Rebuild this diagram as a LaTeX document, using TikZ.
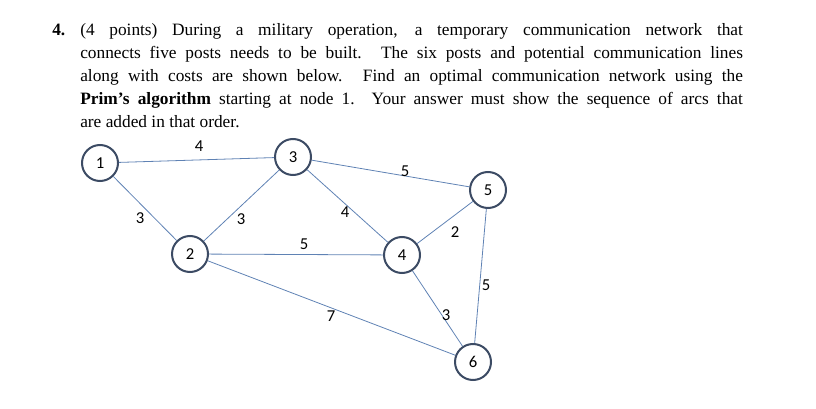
\documentclass[tikz,border=0pt]{standalone}
\usepackage{fontspec}
\setmainfont{Liberation Serif}
\newfontfamily\lblfont{Carlito}
\definecolor{edgec}{RGB}{95,130,180}
\definecolor{circc}{RGB}{60,75,100}
\begin{document}
\begin{tikzpicture}[x=0.75pt,y=-0.75pt,
  vert/.style={circle,draw=circc,line width=1.5pt,fill=white,minimum size=27pt,inner sep=0pt,font=\lblfont\fontsize{12.5}{14}\selectfont},
  edge/.style={draw=edgec,line width=0.6pt},
  lbl/.style={font=\lblfont\fontsize{12.5}{14}\selectfont,inner sep=0pt}]
\useasboundingbox (0,0) rectangle (816,409);
\node[anchor=north west,inner sep=0pt,font=\fontsize{13}{17.2}\selectfont] (num) at (52,19) {\strut\textbf{4.}};
\node[anchor=north west,inner sep=0pt,text width=497pt,align=justify,font=\fontsize{13}{17.2}\selectfont] (q) at (80,19) {\strut(4 points) During a military operation, a temporary communication network that\linebreak connects five posts needs to be built. The six posts and potential communication lines\linebreak along with costs are shown below. Find an optimal communication network using the\linebreak \textbf{Prim's algorithm} starting at node 1. Your answer must show the sequence of arcs that\linebreak are added in that order.};
\node[vert] (n1) at (100,163) {1};
\node[vert] (n3) at (293,157) {3};
\node[vert] (n5) at (488,190) {5};
\node[vert] (n2) at (190,254) {2};
\node[vert] (n4) at (402,255) {4};
\node[vert] (n6) at (473,362) {6};
\draw[edge] (n1)--(n3);
\draw[edge] (n1)--(n2);
\draw[edge] (n3)--(n2);
\draw[edge] (n3)--(n5);
\draw[edge] (n3)--(n4);
\draw[edge] (n2)--(n4);
\draw[edge] (n4)--(n5);
\draw[edge] (n5)--(n6);
\draw[edge] (n2)--(n6);
\draw[edge] (n4)--(n6);
\node[lbl] (l13) at (199,146) {4};
\node[lbl] (l35) at (405,171) {5};
\node[lbl] (l12) at (140,218) {3};
\node[lbl] (l23) at (241,219) {3};
\node[lbl] (l34) at (345,212) {4};
\node[lbl] (l45) at (455,232) {2};
\node[lbl] (l24) at (304,244) {5};
\node[lbl] (l56) at (486,285) {5};
\node[lbl] (l26) at (331,316) {7};
\node[lbl] (l46) at (446,315) {3};
\end{tikzpicture}
\end{document}
